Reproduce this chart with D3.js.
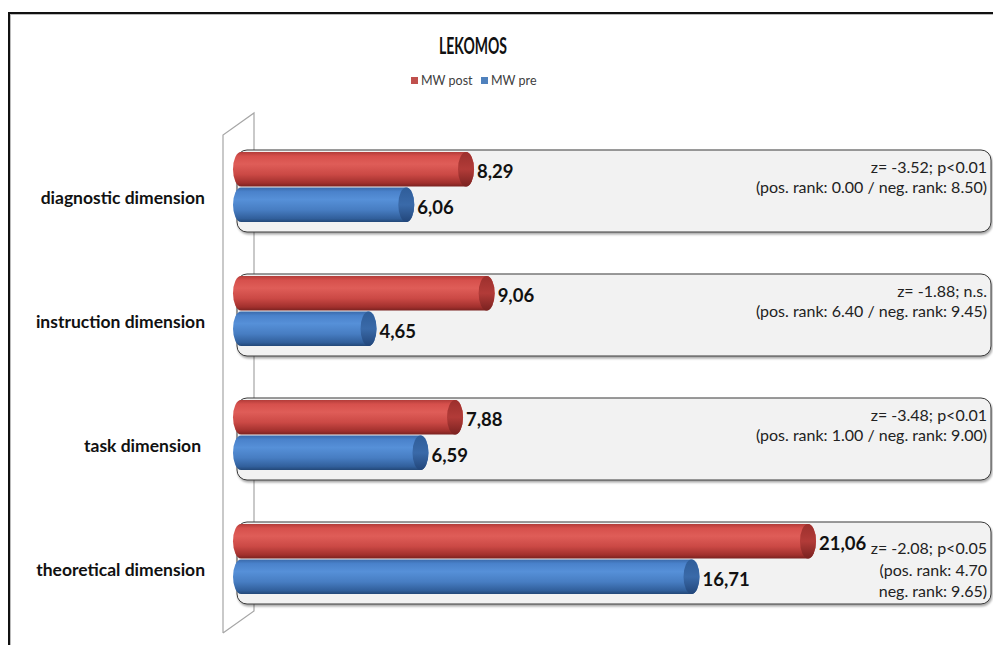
<!DOCTYPE html>
<html>
<head>
<meta charset="utf-8">
<script src="https://cdn.jsdelivr.net/npm/d3@7"></script>
<style>
  body { margin: 0; background: #fff; }
  svg { display: block; font-family: Lato, "Open Sans", sans-serif; }
</style>
</head>
<body>
<script>
// data
var categories = ["diagnostic dimension", "instruction dimension", "task dimension", "theoretical dimension"];
var seriesNames = ["MW post", "MW pre"];
var postValues = [8.29, 9.06, 7.88, 21.06];
var preValues = [6.06, 4.65, 6.59, 16.71];
var statLines = [
    ["z= -3.52; p<0.01", "(pos. rank: 0.00 / neg. rank: 8.50)"],
    ["z= -1.88; n.s.", "(pos. rank: 6.40 / neg. rank: 9.45)"],
    ["z= -3.48; p<0.01", "(pos. rank: 1.00 / neg. rank: 9.00)"],
    ["z= -2.08; p<0.05", "(pos. rank: 4.70", "neg. rank: 9.65)"]
];

var width = 993, height = 645;

var svg = d3.select("body")
    .append("svg")
    .attr("width", width)
    .attr("height", height);

var defs = svg.append("defs");

// gradients for the cylinders
function cylGrad(id, stops) {
    var g = defs.append("linearGradient")
        .attr("id", id)
        .attr("x1", 0).attr("y1", 0).attr("x2", 0).attr("y2", 1);
    stops.forEach(function(s) {
        g.append("stop").attr("offset", s[0]).attr("stop-color", s[1]);
    });
}
cylGrad("gradPost", [[0, "#b23c39"], [0.12, "#d6504c"], [0.35, "#df5d58"], [0.65, "#cb4945"], [0.9, "#a1302d"], [1, "#7a2220"]]);
cylGrad("gradPre", [[0, "#3a6aab"], [0.12, "#4a82cb"], [0.35, "#5690d8"], [0.65, "#477dc2"], [0.9, "#315f9b"], [1, "#234878"]]);
cylGrad("capPost", [[0, "#9c302d"], [0.5, "#b23b38"], [1, "#7a2220"]]);
cylGrad("capPre", [[0, "#2f5d99"], [0.5, "#3a6aa9"], [1, "#22467a"]]);

var shadow = defs.append("filter").attr("id", "shadow")
    .attr("x", "-5%").attr("y", "-10%").attr("width", "110%").attr("height", "130%");
shadow.append("feDropShadow")
    .attr("dx", 1).attr("dy", 2).attr("stdDeviation", 1.2)
    .attr("flood-color", "#000").attr("flood-opacity", 0.35);

// outer frame
svg.append("path")
    .attr("d", "M10,646 L10,14 L994,14")
    .attr("fill", "none").attr("stroke", "#bbb").attr("stroke-width", 2);
svg.append("path")
    .attr("d", "M9,646 L9,13 L994,13")
    .attr("fill", "none").attr("stroke", "#111").attr("stroke-width", 2);

// title
svg.append("text")
    .attr("x", 473).attr("y", 54)
    .attr("text-anchor", "middle")
    .style("font-size", "22px").style("font-weight", "bold")
    .attr("textLength", 68).attr("lengthAdjust", "spacingAndGlyphs")
    .attr("fill", "#111")
    .text("LEKOMOS");

// legend
var legendColors = ["#c0504d", "#4f81bd"];
var legendX = [411, 481];
var legend = svg.append("g");
seriesNames.forEach(function(name, i) {
    legend.append("rect")
        .attr("x", legendX[i]).attr("y", 77)
        .attr("width", 7).attr("height", 7)
        .attr("fill", legendColors[i]);
    legend.append("text")
        .attr("x", legendX[i] + 10).attr("y", 85)
        .style("font-size", "12.5px")
        .attr("fill", "#404040")
        .text(name);
});

// scales
var xScale = d3.scaleLinear().domain([0, 21.06]).range([244, 808]);
var yScale = d3.scaleBand().domain(categories).range([125, 621]);
var inner = d3.scaleBand().domain(seriesNames).range([-35, 35]).paddingInner(0.03);

// 3D side wall
var wall = svg.append("g").attr("fill", "none").attr("stroke", "#a6a6a6").attr("stroke-width", 1.2);
wall.append("path").attr("d", "M223,633 L223,135 L254,113 L254,611 L223,633");

var fmt = function(v) { return d3.format(".2f")(v).replace(".", ","); };

var groups = svg.selectAll(".grp")
    .data(categories)
    .enter().append("g")
    .attr("class", "grp")
    .attr("transform", function(d) { return "translate(0," + (yScale(d) + yScale.bandwidth() / 2) + ")"; });

// panels behind each group
groups.append("rect")
    .attr("x", 237).attr("y", -37)
    .attr("width", 754).attr("height", 82)
    .attr("rx", 10).attr("ry", 10)
    .attr("fill", "#f2f2f2")
    .attr("stroke", "#3a3a3a")
    .attr("stroke-width", 1)
    .attr("filter", "url(#shadow)");

// category labels
groups.append("text")
    .attr("x", function(d) { return d === "task dimension" ? 201 : 205; })
    .attr("y", 17)
    .attr("text-anchor", "end")
    .style("font-size", "17.5px").style("font-weight", "bold")
    .attr("fill", "#111")
    .text(function(d) { return d; });

// cylinders
function drawCyl(g, value, series, bodyFill, capFill) {
    var y0 = inner(series), h = inner.bandwidth();
    var x0 = xScale(0) - 3, x1 = xScale(value);
    var rx = 8, ry = h / 2;
    g.append("path")
        .attr("d", "M" + x0 + "," + y0 +
            " L" + x1 + "," + y0 +
            " A" + rx + "," + ry + " 0 0 1 " + x1 + "," + (y0 + h) +
            " L" + x0 + "," + (y0 + h) +
            " A" + rx + "," + ry + " 0 0 1 " + x0 + "," + y0 + " Z")
        .attr("fill", bodyFill);
    g.append("ellipse")
        .attr("cx", x1).attr("cy", y0 + ry)
        .attr("rx", rx).attr("ry", ry)
        .attr("fill", capFill);
    g.append("text")
        .attr("x", x1 + 11)
        .attr("y", y0 + ry + 9)
        .style("font-size", "18.5px").style("font-weight", "bold")
        .attr("fill", "#111")
        .text(fmt(value));
}

groups.each(function(d, i) {
    var g = d3.select(this);
    drawCyl(g, preValues[i], "MW pre", "url(#gradPre)", "url(#capPre)");
    drawCyl(g, postValues[i], "MW post", "url(#gradPost)", "url(#capPost)");

    // stats text
    var lines = statLines[i];
    var top = lines.length === 3 ? -11 : -20;
    var step = lines.length === 3 ? 21.5 : 20;
    lines.forEach(function(t, j) {
        g.append("text")
            .attr("x", 987)
            .attr("y", top + j * step + 6)
            .attr("text-anchor", "end")
            .style("font-size", "16px")
            .attr("fill", "#222")
            .text(t);
    });
});
</script>
</body>
</html>
